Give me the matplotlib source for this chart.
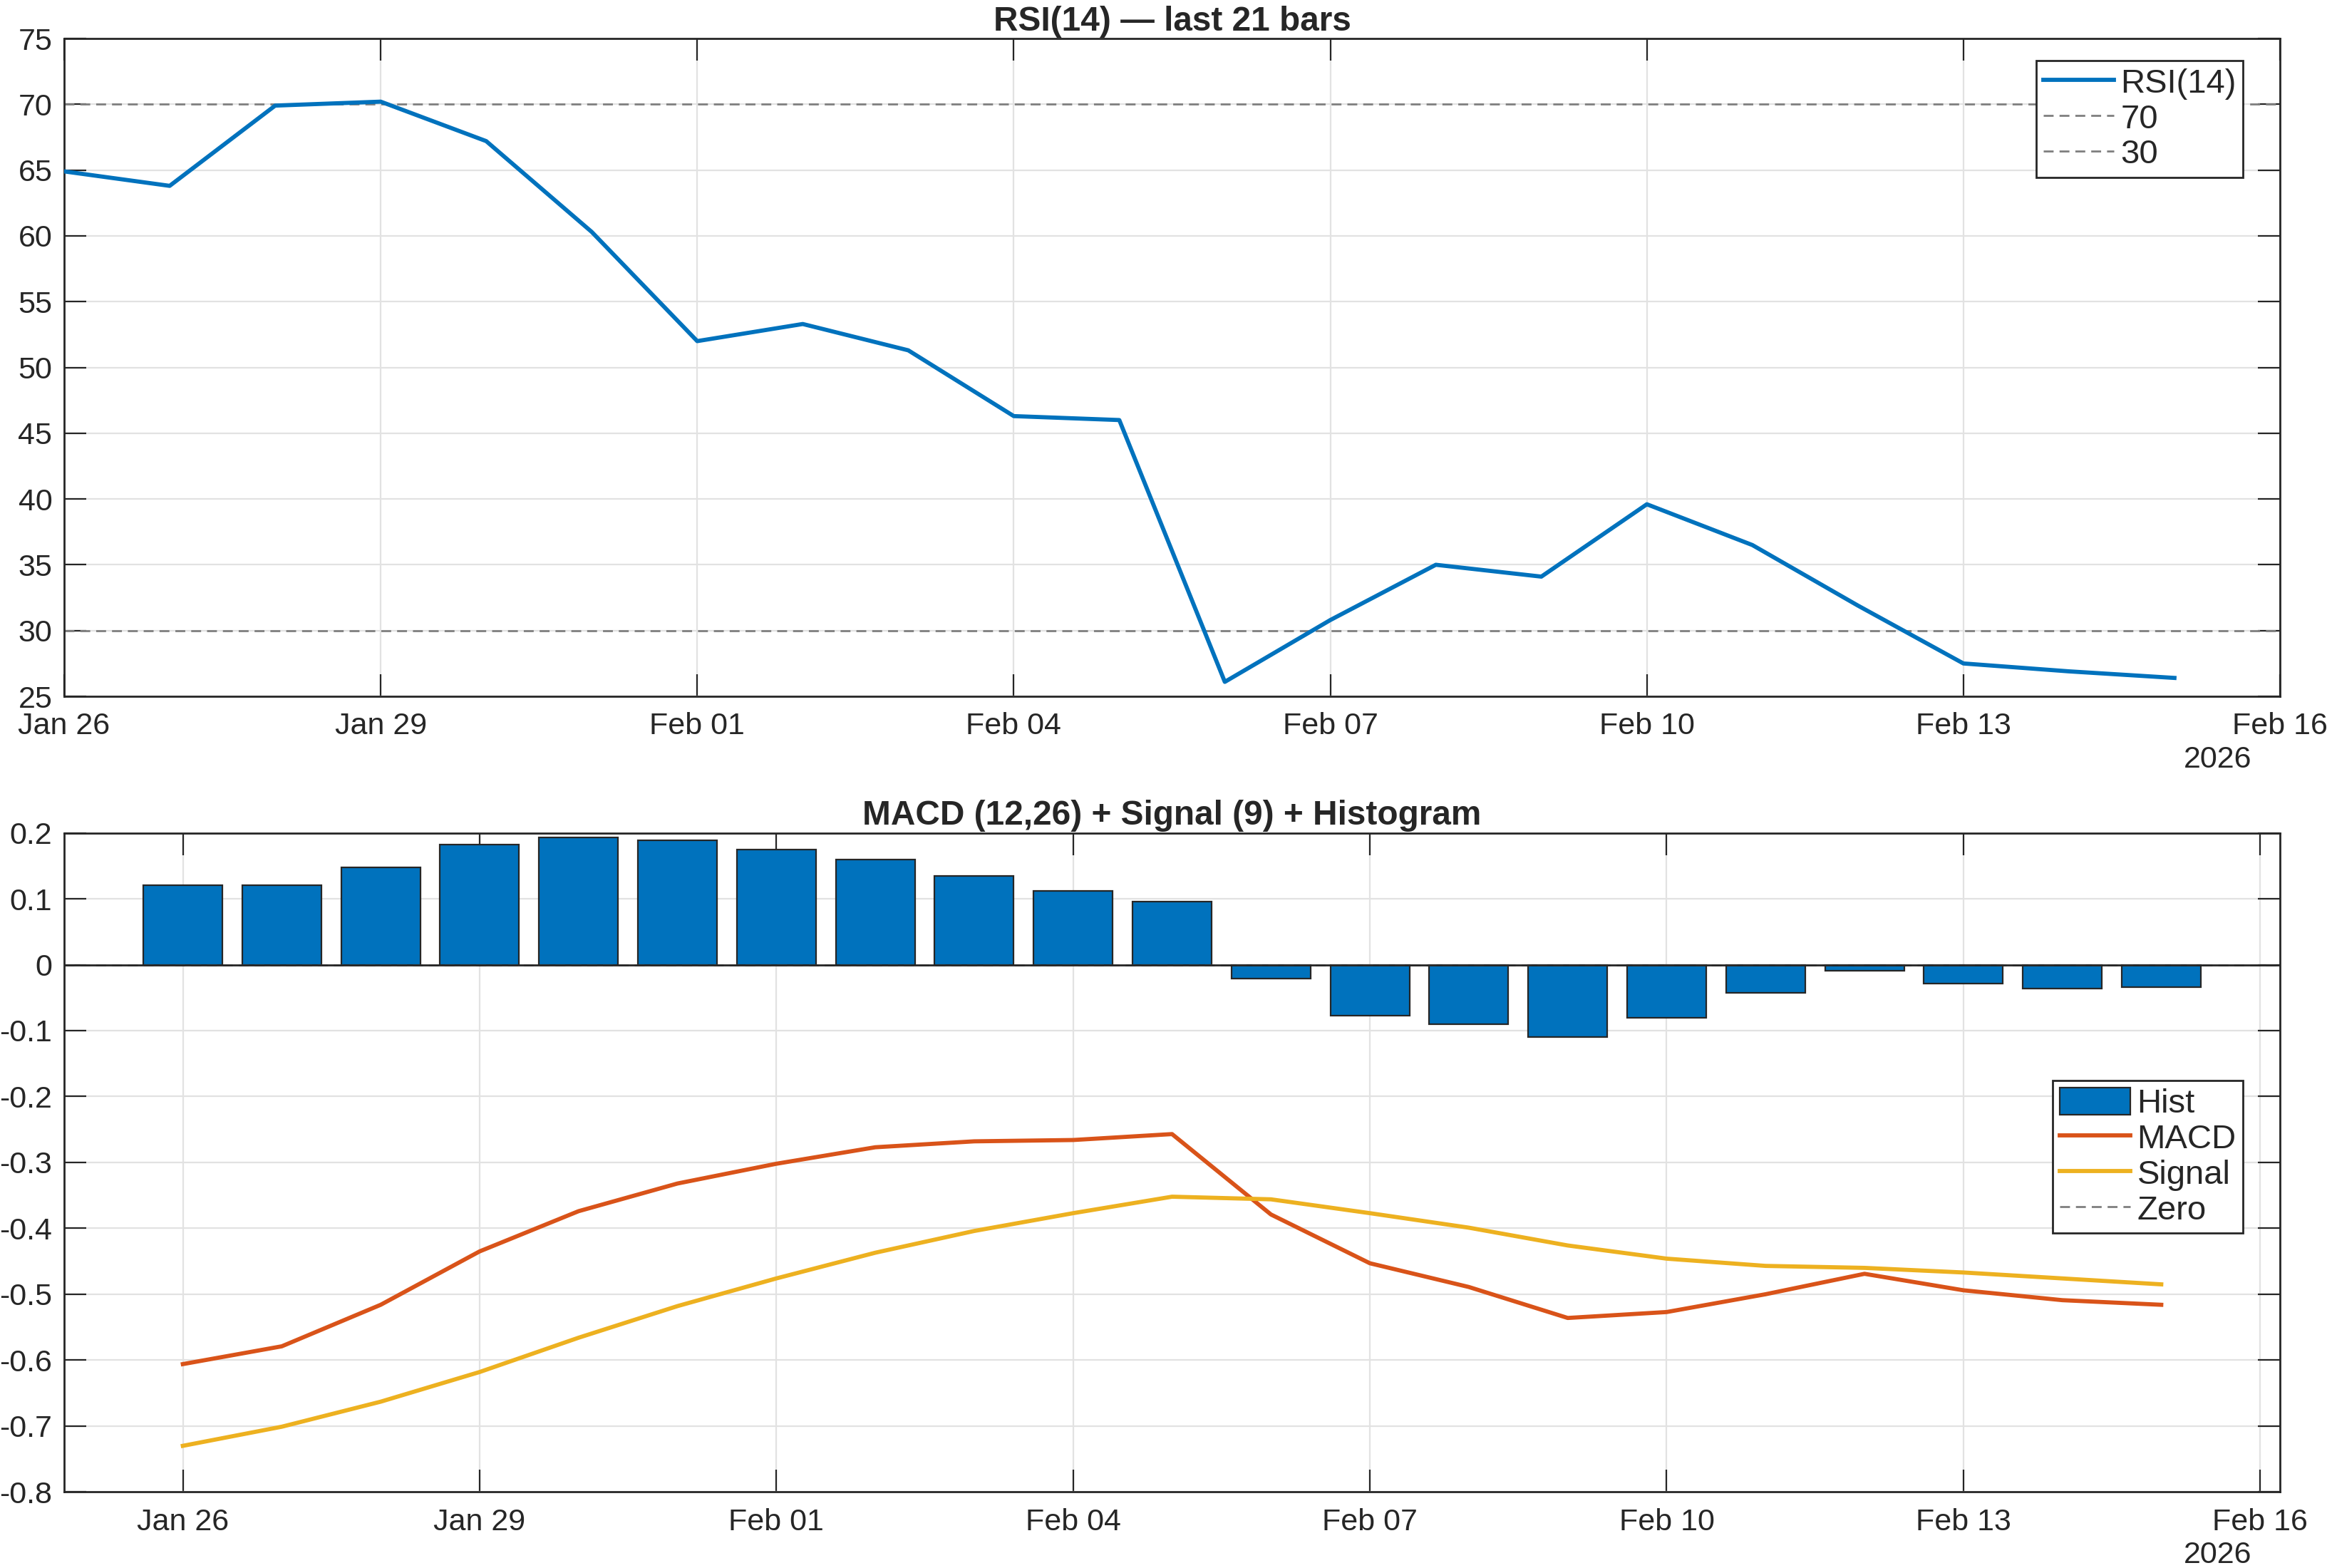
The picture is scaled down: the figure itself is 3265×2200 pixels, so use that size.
import matplotlib
matplotlib.use("Agg")
import matplotlib.pyplot as plt
import matplotlib.dates as mdates
import pandas as pd
import numpy as np

plt.rcParams['font.family'] = ['Liberation Sans', 'DejaVu Sans']
plt.rcParams['axes.unicode_minus'] = False

# ---- data ----
dates = pd.date_range('2026-01-26', periods=21, freq='D')
rsi = [64.9, 63.8, 69.9, 70.2, 67.2, 60.3, 52.0, 53.3, 51.3, 46.3, 46.0,
       26.1, 30.8, 35.0, 34.1, 39.6, 36.5, 31.9, 27.5, 26.9, 26.4]
macd = [-0.606, -0.579, -0.516, -0.435, -0.374, -0.332, -0.302, -0.277, -0.268, -0.266, -0.257,
        -0.379, -0.453, -0.489, -0.536, -0.527, -0.500, -0.469, -0.494, -0.509, -0.516]
signal = [-0.730, -0.701, -0.663, -0.618, -0.566, -0.518, -0.476, -0.437, -0.404, -0.377, -0.352,
          -0.356, -0.377, -0.399, -0.426, -0.446, -0.457, -0.460, -0.467, -0.476, -0.485]
hist = [0.121, 0.121, 0.148, 0.182, 0.193, 0.189, 0.175, 0.159, 0.135, 0.112, 0.096,
        -0.021, -0.077, -0.090, -0.110, -0.081, -0.043, -0.009, -0.029, -0.036, -0.034]
rsi_levels = [70, 30]
rsi_yticks = list(range(25, 80, 5))
macd_yticks = [-0.8, -0.7, -0.6, -0.5, -0.4, -0.3, -0.2, -0.1, 0, 0.1, 0.2]
macd_ytick_labels = ['-0.8', '-0.7', '-0.6', '-0.5', '-0.4', '-0.3', '-0.2', '-0.1', '0', '0.1', '0.2']
xtick_dates = pd.date_range('2026-01-26', '2026-02-16', freq='3D')

# ---- style ----
BLUE = '#0072BD'
ORANGE = '#D95319'
YELLOW = '#EDB120'
DARK = '#262626'
GRID = '#e2e2e2'
DASH = '#7f7f7f'
TICK_FS = 15.5
TITLE_FS = 17.2
LEG_FS = 17

fig = plt.figure(figsize=(16.33, 11.0), dpi=200)
ax1 = fig.add_axes([0.02756, 0.5559, 0.95192, 0.41955])
ax2 = fig.add_axes([0.02756, 0.04849, 0.95192, 0.42034])


def style(ax):
    for s in ax.spines.values():
        s.set_color(DARK)
        s.set_linewidth(1.0)
    ax.tick_params(which='both', direction='in', length=11, width=0.8, color=DARK,
                   labelcolor=DARK, labelsize=TICK_FS, top=True, right=True)
    ax.tick_params(axis='x', pad=8)
    ax.tick_params(axis='y', pad=6)
    ax.grid(True, color=GRID, linewidth=0.8)
    ax.set_axisbelow(True)
    ax.set_xticks(xtick_dates)
    ax.xaxis.set_major_formatter(mdates.DateFormatter('%b %d'))
    ax.annotate('2026', xy=(1, 0), xycoords='axes fraction', xytext=(-31.5, -32),
                textcoords='offset points', ha='center', va='center', fontsize=TICK_FS, color=DARK)


def legend(ax, handles, labels, anchor):
    leg = ax.legend(handles, labels, loc='upper right', bbox_to_anchor=anchor, borderaxespad=0,
                    fontsize=LEG_FS, fancybox=False, framealpha=1, edgecolor=DARK,
                    handlelength=2.1, handleheight=0.85, handletextpad=0.2,
                    labelspacing=0.1, borderpad=0.2)
    leg.get_frame().set_linewidth(1.0)
    for t in leg.get_texts():
        t.set_color(DARK)
    return leg


# ---- RSI ----
ax1.plot(dates, rsi, color=BLUE, linewidth=2.1, label='RSI(14)', zorder=3)
for lv in rsi_levels:
    ax1.axhline(lv, color=DASH, linestyle=(0, (5, 3)), linewidth=1.0, label=str(lv), zorder=2)
ax1.set_xlim(pd.Timestamp('2026-01-26'), pd.Timestamp('2026-02-16'))
ax1.set_ylim(25, 75)
ax1.set_yticks(rsi_yticks)
style(ax1)
ax1.set_title('RSI(14) \u2014 last 21 bars', fontsize=TITLE_FS, fontweight='bold', color=DARK, pad=4)
h1, l1 = ax1.get_legend_handles_labels()
legend(ax1, h1, l1, (0.9833, 0.9664))

# ---- MACD ----
bars = ax2.bar(dates, hist, width=0.8, color=BLUE, edgecolor=DARK, linewidth=0.8, label='Hist', zorder=2)
lm, = ax2.plot(dates, macd, color=ORANGE, linewidth=2.1, label='MACD', zorder=3)
ls, = ax2.plot(dates, signal, color=YELLOW, linewidth=2.1, label='Signal', zorder=3)
lz = ax2.axhline(0, color=DASH, linestyle=(0, (5, 3)), linewidth=1.0, label='Zero', zorder=2)
ax2.axhline(0, color=DARK, linewidth=1.0, zorder=2.5)
ax2.set_xlim(pd.Timestamp('2026-01-26') - pd.Timedelta(hours=28.8),
             pd.Timestamp('2026-02-16') + pd.Timedelta(hours=4.8))
ax2.set_ylim(-0.8, 0.2)
ax2.set_yticks(macd_yticks)
ax2.set_yticklabels(macd_ytick_labels)
style(ax2)
ax2.set_title('MACD (12,26) + Signal (9) + Histogram', fontsize=TITLE_FS, fontweight='bold', color=DARK, pad=4)
legend(ax2, [bars, lm, ls, lz], ['Hist', 'MACD', 'Signal', 'Zero'], (0.9833, 0.6238))

fig.savefig('out.png', dpi=200)
